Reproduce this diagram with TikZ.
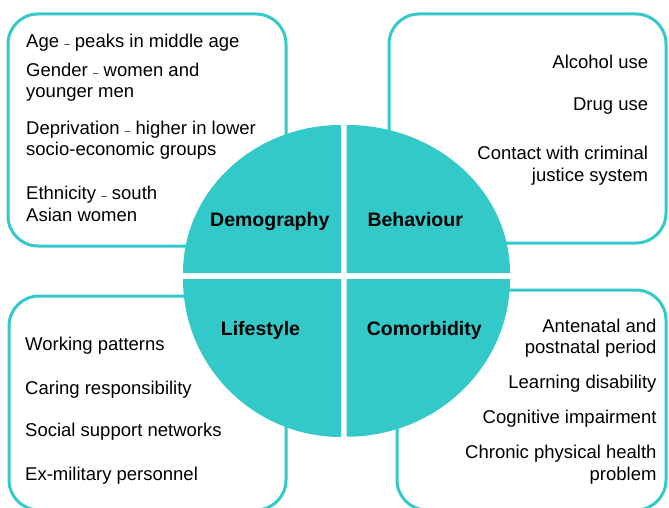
\documentclass[tikz,border=0pt]{standalone}
\usepackage{fontspec}
\setmainfont{Liberation Sans}
\definecolor{quadteal}{RGB}{52,201,201}
% short dash used between a factor and its note
\newcommand{\shdash}{{\fontsize{10}{10}\selectfont –}}
\begin{document}
\begin{tikzpicture}[x=1pt,y=-1pt,
  framebox/.style={draw=quadteal, line width=3pt, rounded corners=30pt},
  quad/.style={fill=quadteal},
  item/.style={inner sep=0pt, font=\fontsize{18.5}{21.5}\selectfont},
  itemL/.style={item, anchor=north west, align=left},
  itemR/.style={item, anchor=north east, align=right},
  head/.style={inner sep=0pt, anchor=base west, font=\fontsize{19.5}{22}\selectfont\bfseries}]
\useasboundingbox (0,0) rectangle (669,508);
\clip (0,0) rectangle (669,508);

% four rounded frames (the lower two run past the bottom edge)
\draw[framebox] (8,14) rectangle (286,246);
\draw[framebox] (389,14) rectangle (666,243);
\draw[framebox] (9,296) rectangle (286,510);
\draw[framebox] (397,290) rectangle (666,510);

% central disc split into four quadrants
\fill[quad] (341,273) -- (183,273) arc[start angle=180,end angle=90,x radius=158pt,y radius=148pt] -- cycle;
\fill[quad] (346.7,273) -- (346.7,125) arc[start angle=90,end angle=0,x radius=163.3pt,y radius=148pt] -- cycle;
\fill[quad] (341,279) -- (183,279) arc[start angle=180,end angle=270,x radius=158pt,y radius=158pt] -- cycle;
\fill[quad] (346.7,279) -- (510,279) arc[start angle=0,end angle=-90,x radius=163.3pt,y radius=157.7pt] -- cycle;

% quadrant headings
\node[head] (hdemo) at (210,226.7) {Demography};
\node[head] (hbeh) at (367.3,226.7) {Behaviour};
\node[head] (hlife) at (220.7,335) {Lifestyle};
\node[head] (hcomo) at (366.7,335) {Comorbidity};

% demography
\node[itemL] (age) at (26,34.2) {Age \shdash{} peaks in middle age};
\node[itemL] (gender) at (26,62.7) {Gender \shdash{} women and\\younger men};
\node[itemL] (depr) at (26,120.7) {Deprivation \shdash{} higher in lower\\socio-economic groups};
\node[itemL] (eth) at (26,186) {Ethnicity \shdash{} south\\Asian women};

% behaviour
\node[itemR] (alc) at (648.3,55) {Alcohol use};
\node[itemR] (drug) at (648.3,97.4) {Drug use};
\node[itemR] (cjs) at (648.3,146) {Contact with criminal\\justice system};

% lifestyle
\node[itemL] (work) at (25,336.7) {Working patterns};
\node[itemL] (care) at (25,380.7) {Caring responsibility};
\node[itemL] (social) at (25,422.7) {Social support networks};
\node[itemL] (mil) at (25,466.7) {Ex-military personnel};

% comorbidity
\node[itemR] (ante) at (656.7,318.4) {Antenatal and\\postnatal period};
\node[itemR] (learn) at (656.7,375) {Learning disability};
\node[itemR] (cog) at (656.7,410) {Cognitive impairment};
\node[itemR] (chron) at (656.7,445) {Chronic physical health\\problem};
\end{tikzpicture}
\end{document}
